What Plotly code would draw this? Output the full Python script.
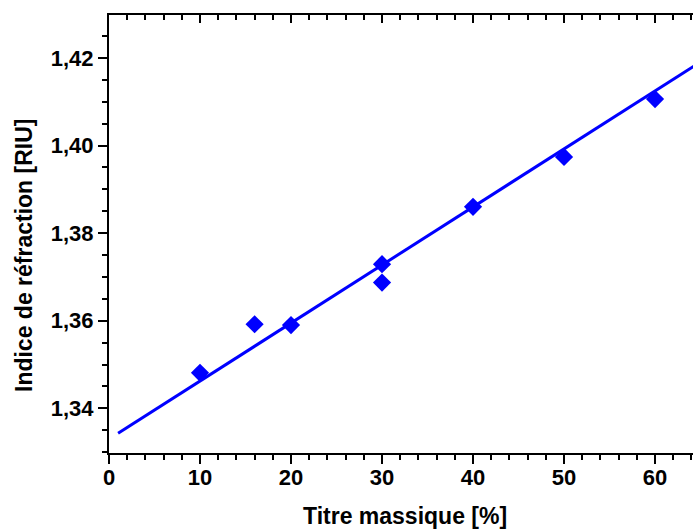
import plotly.graph_objects as go

# Data
titre = [10, 16, 20, 30, 30, 40, 50, 60]
indice = [1.3481, 1.3592, 1.3590, 1.3729, 1.3687, 1.3860, 1.3974, 1.4106]

fit_x = [1, 65]
fit_y = [1.3343, 1.4191]

x_title = "Titre massique [%]"
y_title = "Indice de réfraction [RIU]"

BLUE = "#0000FF"
FONT = "Liberation Sans, Arial, sans-serif"

fig = go.Figure()
fig.add_trace(go.Scatter(x=fit_x, y=fit_y, mode="lines",
                         line=dict(color=BLUE, width=3), showlegend=False,
                         hoverinfo="skip"))
fig.add_trace(go.Scatter(x=titre, y=indice, mode="markers",
                         marker=dict(symbol="diamond", size=14, color=BLUE,
                                     line=dict(width=0)),
                         showlegend=False))
# invisible traces on the mirror axes so they are rendered
fig.add_trace(go.Scatter(x=[0], y=[1.38], xaxis="x2", yaxis="y",
                         mode="markers", marker=dict(opacity=0),
                         showlegend=False, hoverinfo="skip"))
fig.add_trace(go.Scatter(x=[0], y=[1.38], xaxis="x", yaxis="y2",
                         mode="markers", marker=dict(opacity=0),
                         showlegend=False, hoverinfo="skip"))

xr = [0, 65.05]
yr = [1.3298, 1.4298]

common = dict(tickwidth=2, tickcolor="black", showline=True, linewidth=2,
              linecolor="black", showgrid=False, zeroline=False,
              automargin=False)

fig.update_layout(
    width=701, height=531,
    margin=dict(l=109, r=0, t=15, b=78),
    plot_bgcolor="white", paper_bgcolor="white",
    separators=", ",
    font=dict(family=FONT, color="black", size=21, weight="bold"),
    xaxis=dict(
        range=xr, tick0=0, dtick=10, ticks="outside", ticklen=9,
        ticklabelstandoff=-5,
        tickfont=dict(family=FONT, size=22, weight="bold"),
        minor=dict(dtick=2, ticks="outside", ticklen=5, tickwidth=2,
                   tickcolor="black", showgrid=False),
        **common,
    ),
    xaxis2=dict(
        range=xr, overlaying="x", side="top", anchor="y", tick0=0, dtick=10,
        ticks="inside", ticklen=8, showticklabels=False,
        minor=dict(dtick=2, ticks="inside", ticklen=5, tickwidth=2,
                   tickcolor="black", showgrid=False),
        **common,
    ),
    yaxis=dict(
        range=yr, tick0=1.34, dtick=0.02, tickformat=".2f", ticks="outside",
        ticklen=9,
        tickfont=dict(family=FONT, size=22, weight="bold"),
        minor=dict(dtick=0.005, ticks="outside", ticklen=5, tickwidth=2,
                   tickcolor="black", showgrid=False),
        **common,
    ),
    yaxis2=dict(
        range=yr, overlaying="y", side="right", anchor="x", tick0=1.34,
        dtick=0.02, ticks="inside", ticklen=8, showticklabels=False,
        minor=dict(dtick=0.005, ticks="inside", ticklen=5, tickwidth=2,
                   tickcolor="black", showgrid=False),
        **common,
    ),
    annotations=[
        dict(text=x_title, xref="paper", yref="paper", x=0.5, y=-0.178,
             xanchor="center", yanchor="bottom", showarrow=False,
             font=dict(family=FONT, size=23, weight="bold", color="black")),
        dict(text=y_title, xref="paper", yref="paper", x=-0.1436, y=0.452,
             xanchor="center", yanchor="middle", textangle=-90,
             showarrow=False,
             font=dict(family=FONT, size=23, weight="bold", color="black")),
    ],
)

# remove the default page margin and scrollbars so the figure sits at (0, 0)
post = ("document.body.style.margin='0';"
        "document.documentElement.style.overflow='hidden';"
        "document.body.style.overflow='hidden';")

fig.write_html("out.html", post_script=post,
               config={"displayModeBar": False})
